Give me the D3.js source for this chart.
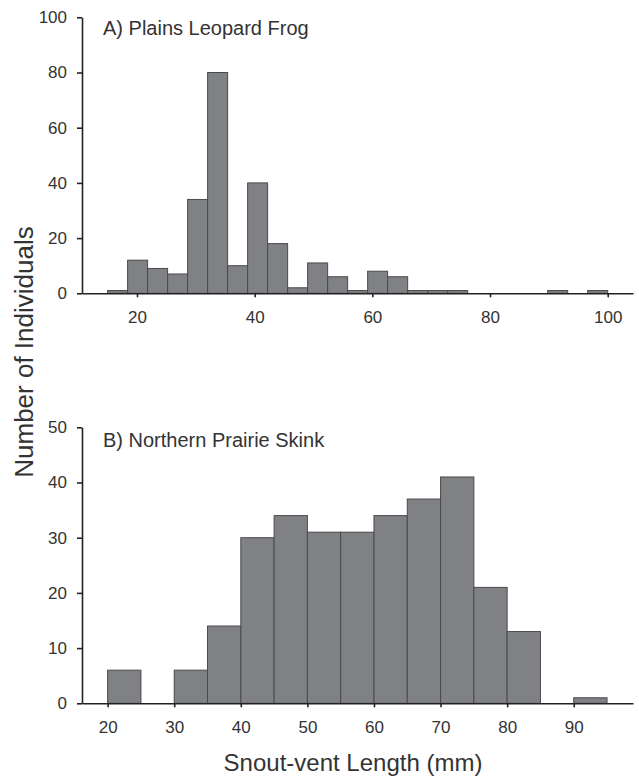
<!DOCTYPE html>
<html>
<head>
<meta charset="utf-8">
<script src="https://cdn.jsdelivr.net/npm/d3@7/dist/d3.min.js"></script>
<style>
  html, body { margin: 0; padding: 0; background: #fff; }
  svg { display: block; font-family: "Liberation Sans", Arial, sans-serif; }
</style>
</head>
<body>
<svg id="chart" width="639" height="776"></svg>
<script>
// ---- Data ----
// Panel A: Plains Leopard Frog, 25 bins of width 3.4 mm from 15 to 100
const frogBinStart = 15;
const frogBinWidth = 3.4;
const frogCounts = [1, 12, 9, 7, 34, 80, 10, 40, 18, 2, 11, 6, 1, 8, 6, 1, 1, 1, 0, 0, 0, 0, 1, 0, 1];
const frogXTicks = [20, 40, 60, 80, 100];
const frogYTicks = [0, 20, 40, 60, 80, 100];

// Panel B: Northern Prairie Skink, bins of width 5 mm from 20 to 95
const skinkBinStart = 20;
const skinkBinWidth = 5;
const skinkCounts = [6, 0, 6, 14, 30, 34, 31, 31, 34, 37, 41, 21, 13, 0, 1];
const skinkXTicks = [20, 30, 40, 50, 60, 70, 80, 90];
const skinkYTicks = [0, 10, 20, 30, 40, 50];

const panelTitles = ["A) Plains Leopard Frog", "B) Northern Prairie Skink"];
const xTitle = "Snout-vent Length (mm)";
const yTitle = "Number of Individuals";

// ---- Drawing ----
const svg = d3.select("#chart");
const axisColor = "#222";
const textColor = "#333";
const barFill = "#808184";
const barStroke = "#4a4a4a";

function panel(cfg) {
  const x = d3.scaleLinear().domain(cfg.xDomain).range([82, 633]);
  const y = d3.scaleLinear().domain(cfg.yDomain).range([cfg.bottom, cfg.top]);
  const g = svg.append("g");

  const bins = cfg.counts.map((c, i) => ({
    x0: cfg.start + i * cfg.width,
    x1: cfg.start + (i + 1) * cfg.width,
    c
  })).filter(d => d.c > 0);

  g.selectAll("rect").data(bins).enter().append("rect")
    .attr("x", d => x(d.x0))
    .attr("width", d => x(d.x1) - x(d.x0))
    .attr("y", d => y(d.c))
    .attr("height", d => y(0) - y(d.c))
    .attr("fill", barFill)
    .attr("stroke", barStroke)
    .attr("stroke-width", 1);

  const xAxis = g.append("g")
    .attr("transform", `translate(0,${cfg.bottom})`)
    .call(d3.axisBottom(x).tickValues(cfg.xTicks).tickSize(4).tickPadding(14).tickSizeOuter(0));
  const yAxis = g.append("g")
    .attr("transform", "translate(82,0)")
    .call(d3.axisLeft(y).tickValues(cfg.yTicks).tickSize(5).tickPadding(10).tickSizeOuter(0));

  [xAxis, yAxis].forEach(a => {
    a.select(".domain").attr("stroke", axisColor).attr("stroke-width", 1.6);
    a.selectAll(".tick line").attr("stroke", axisColor).attr("stroke-width", 1.6);
    a.selectAll(".tick text").attr("fill", textColor).attr("font-size", 17)
      .attr("font-family", "Liberation Sans, Arial, sans-serif");
  });

  g.append("text")
    .attr("x", 103).attr("y", cfg.titleY)
    .attr("fill", textColor).attr("font-size", 20)
    .text(cfg.title);
}

panel({
  xDomain: [10.65, 104.3], yDomain: [0, 100], top: 17.3, bottom: 293.3,
  counts: frogCounts, start: frogBinStart, width: frogBinWidth,
  xTicks: frogXTicks, yTicks: frogYTicks, title: panelTitles[0], titleY: 35
});
panel({
  xDomain: [16.15, 98.9], yDomain: [0, 50], top: 427.3, bottom: 703.3,
  counts: skinkCounts, start: skinkBinStart, width: skinkBinWidth,
  xTicks: skinkXTicks, yTicks: skinkYTicks, title: panelTitles[1], titleY: 447
});

svg.append("text")
  .attr("x", 353).attr("y", 771)
  .attr("text-anchor", "middle")
  .attr("fill", textColor).attr("font-size", 24)
  .text(xTitle);

svg.append("text")
  .attr("transform", "translate(33,352) rotate(-90)")
  .attr("text-anchor", "middle")
  .attr("fill", textColor).attr("font-size", 26)
  .text(yTitle);
</script>
</body>
</html>
